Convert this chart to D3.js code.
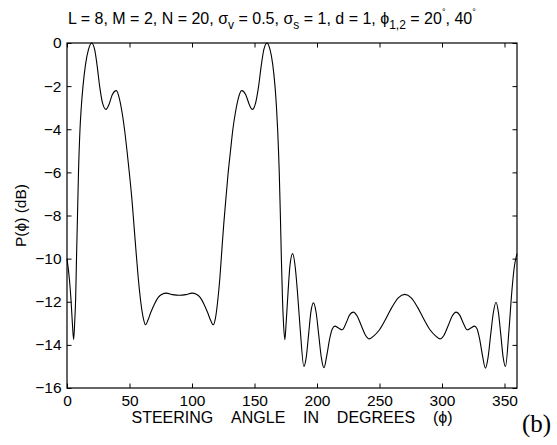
<!DOCTYPE html>
<html>
<head>
<meta charset="utf-8">
<script src="https://cdn.jsdelivr.net/npm/d3@7"></script>
<style>
  body { margin: 0; background: #fff; }
  svg text { font-family: "Liberation Sans", Arial, Helvetica, sans-serif; fill: #000; }
</style>
</head>
<body>
<svg id="chart" width="557" height="445"></svg>
<script>
// Beam power versus steering angle
const angleDeg = [
  0, 2, 3.2, 4.3, 5.3, 6.2, 6.9, 7.6, 8.4, 9.2, 10.4, 11.4, 12.8, 14.8, 17.2, 19.7,
  22.1, 24.1, 26.1, 28.5, 31.2, 33.6, 36.2, 39.5, 42, 44, 46, 48, 50, 52, 53.5, 55,
  57, 59, 61, 62.8, 64.8, 67, 70, 73, 76, 79.5, 84.5, 90, 95, 100, 103.5, 106.5,
  109.5, 112.5, 114.8, 117, 118.8, 120.5, 122.3, 124, 125.4, 127, 128.8, 130.8, 132.7, 134.8,
  136.9, 139.7, 143, 145.8, 148.2, 150.8, 153.3, 155.4, 157.5, 160, 162.4, 164.6, 166.4, 167.6,
  168.5, 169.8, 170.7, 171.5, 172.4, 173.2, 174.3, 175.4, 176.9, 178.4, 180.5, 182.6, 184.3, 186.6,
  189.5, 191.4, 193.3, 195.1, 197.2, 199.3, 201.4, 203.5, 205.6, 207.8, 210.2, 212.3, 214.4, 217.2,
  220.2, 223.2, 226, 229, 232, 235.4, 238.8, 241.9, 245.5, 250, 255, 260, 265, 270.2,
  275.4, 280.4, 285.4, 290.4, 294.8, 298.4, 301.6, 305, 308.3, 311.3, 314.2, 317.1, 320.1, 323.1,
  325.9, 328, 330, 332.4, 334.7, 336.8, 338.9, 341.1, 343.2, 345.1, 347, 348.9, 350.8, 353.6,
  355.9, 357.8, 360
];
const powerDb = [
  -10.0, -11.0, -11.9, -13.0, -13.76, -12.9, -11.9, -10.0, -8.0, -6.0, -4.0, -3.0, -2.0, -1.0, -0.3, 0,
  -0.3, -1.05, -2.0, -2.8, -3.08, -2.85, -2.4, -2.21, -2.6, -3.2, -4.0, -5.0, -6.1, -7.3, -8.4, -9.5,
  -10.9, -12.0, -12.75, -13.07, -12.85, -12.5, -12.1, -11.8, -11.65, -11.6, -11.67, -11.7, -11.67, -11.6, -11.65, -11.8,
  -12.1, -12.5, -12.85, -13.07, -12.75, -12.0, -10.9, -9.5, -8.4, -7.3, -6.1, -5.0, -4.0, -3.2,
  -2.6, -2.21, -2.4, -2.85, -3.08, -2.8, -2.0, -1.05, -0.3, 0, -0.3, -1.0, -2.0, -3.0,
  -4.0, -6.0, -8.0, -10.0, -11.9, -13.0, -13.76, -12.9, -11.5, -10.3, -9.77, -10.4, -11.5, -13.3,
  -15.0, -14.57, -13.5, -12.48, -12.05, -12.5, -13.55, -14.6, -15.06, -14.5, -13.7, -13.25, -13.13, -13.22,
  -13.3, -13.0, -12.62, -12.48, -12.65, -13.1, -13.55, -13.72, -13.58, -13.3, -12.8, -12.25, -11.82, -11.66,
  -11.82, -12.25, -12.8, -13.3, -13.58, -13.72, -13.55, -13.1, -12.65, -12.48, -12.62, -13.0, -13.3, -13.22,
  -13.13, -13.25, -13.7, -14.5, -15.08, -14.6, -13.55, -12.5, -12.02, -12.48, -13.5, -14.57, -15.0, -13.3,
  -11.5, -10.4, -9.77
];
const xTickValues = [0, 50, 100, 150, 200, 250, 300, 350];
const yTickValues = [0, -2, -4, -6, -8, -10, -12, -14, -16];

const svg = d3.select("#chart");
const plot = { left: 67, top: 43, right: 517, bottom: 388 };

const x = d3.scaleLinear().domain([0, 360]).range([plot.left, plot.right]);
const y = d3.scaleLinear().domain([-16, 0]).range([plot.bottom, plot.top]);

const tickLen = 4.5;
const fmt = d => d < 0 ? "\u2212" + Math.abs(d) : String(d);

// bottom axis with labels
const gx = svg.append("g")
  .attr("transform", `translate(0,${plot.bottom})`)
  .call(d3.axisBottom(x).tickValues(xTickValues).tickFormat(fmt)
    .tickSizeInner(-tickLen).tickSizeOuter(0).tickPadding(7));
// left axis with labels
const gy = svg.append("g")
  .attr("transform", `translate(${plot.left},0)`)
  .call(d3.axisLeft(y).tickValues(yTickValues).tickFormat(fmt)
    .tickSizeInner(-tickLen).tickSizeOuter(0).tickPadding(5.5));
// top and right ticks (no labels)
const gt = svg.append("g")
  .attr("transform", `translate(0,${plot.top})`)
  .call(d3.axisTop(x).tickValues(xTickValues).tickFormat("")
    .tickSizeInner(-tickLen).tickSizeOuter(0));
const gr = svg.append("g")
  .attr("transform", `translate(${plot.right},0)`)
  .call(d3.axisRight(y).tickValues(yTickValues).tickFormat("")
    .tickSizeInner(-tickLen).tickSizeOuter(0));

[gx, gy, gt, gr].forEach(g => {
  g.select(".domain").remove();
  g.selectAll(".tick line").attr("stroke", "#000").attr("stroke-width", 1);
  g.selectAll(".tick text").attr("font-size", 15.5).attr("font-family", "Liberation Sans, Arial, sans-serif").attr("fill", "#000");
});

// frame
svg.append("rect")
  .attr("x", plot.left).attr("y", plot.top)
  .attr("width", plot.right - plot.left).attr("height", plot.bottom - plot.top)
  .attr("fill", "none").attr("stroke", "#000").attr("stroke-width", 1.2);

// curve
const points = angleDeg.map((a, i) => [a, powerDb[i]]);
svg.append("path")
  .datum(points)
  .attr("fill", "none")
  .attr("stroke", "#000")
  .attr("stroke-width", 1.1)
  .attr("d", d3.line().x(d => x(d[0])).y(d => y(d[1])).curve(d3.curveMonotoneX));

// title
const title = svg.append("text")
  .attr("x", 68).attr("y", 24)
  .attr("font-size", 16);
const parts = [
  ["L = 8, M = 2, N = 20, \u03c3", 0],
  ["v", 1], [" = 0.5, \u03c3", 0],
  ["s", 1], [" = 1, d = 1, \u03d5", 0],
  ["1,2", 1], [" = 20", 0],
  ["\u00b0", 2], [", 40", 0],
  ["\u00b0", 2]
];
let shift = 0;
parts.forEach(([t, kind]) => {
  const target = kind === 1 ? 5 : kind === 2 ? -9 : 0;
  title.append("tspan")
    .attr("dy", target - shift)
    .attr("font-size", kind === 0 ? 16 : kind === 1 ? 12 : 9)
    .text(t);
  shift = target;
});

// axis titles
const gap = "\u00a0\u00a0\u00a0\u00a0";
svg.append("text")
  .attr("x", (plot.left + plot.right) / 2).attr("y", 423)
  .attr("text-anchor", "middle")
  .attr("font-size", 16)
  .text(["STEERING", "ANGLE", "IN", "DEGREES", "(\u03d5)"].join(gap));

svg.append("text")
  .attr("transform", `translate(26,${(plot.top + plot.bottom) / 2}) rotate(-90)`)
  .attr("text-anchor", "middle")
  .attr("font-size", 15.5)
  .text("P(\u03d5) (dB)");

// panel letter
svg.append("text")
  .attr("x", 522).attr("y", 432)
  .style("font-family", "'Liberation Serif', 'DejaVu Serif', serif")
  .attr("font-size", 25)
  .text("(b)");
</script>
</body>
</html>
